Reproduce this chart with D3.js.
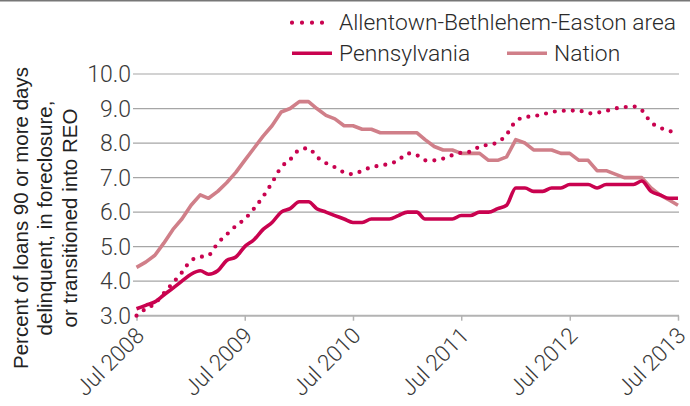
<!DOCTYPE html>
<html lang="en">
<head>
    <meta charset="UTF-8">
    <title>Seriously delinquent loans</title>
    <script src="https://cdnjs.cloudflare.com/ajax/libs/d3/7.8.5/d3.min.js"></script>
    <style>
        body { margin: 0; background: #fff; }
        svg text { font-family: "Liberation Sans", Arial, sans-serif; }
        .grid line { stroke: #a6a6a6; stroke-width: 1.2px; }
        .light { font-family: Roboto, "Liberation Sans", sans-serif !important; font-weight: 300; }
        .tick-label { fill: #3a3a3a; font-size: 23px; }
        .xlabel { fill: #3a3a3a; font-size: 22.5px; }
        .title { fill: #222; font-size: 20.5px; }
        .legend text { fill: #2a2a2a; font-size: 22.8px; }
    </style>
</head>
<body>
<div id="chart"></div>
<script>
    // monthly values, Jul 2008 .. Jul 2013
    const startMonth = new Date(2008, 6, 1);

    const allentown = [3.0, 3.2, 3.35, 3.65, 3.95, 4.25, 4.6, 4.7, 4.75, 5.1, 5.35, 5.6, 5.8,
        6.1, 6.45, 6.85, 7.3, 7.52, 7.8, 7.85, 7.6, 7.42, 7.3, 7.15, 7.1,
        7.2, 7.3, 7.35, 7.4, 7.5, 7.7, 7.65, 7.5, 7.5, 7.55, 7.65, 7.72,
        7.75, 7.9, 7.95, 8.02, 8.25, 8.63, 8.75, 8.78, 8.83, 8.9, 8.93, 8.94,
        8.94, 8.86, 8.88, 8.93, 9.0, 9.04, 9.06, 8.95, 8.6, 8.45, 8.35, 8.3];

    const pennsylvania = [3.2, 3.3, 3.4, 3.6, 3.8, 4.0, 4.2, 4.3, 4.2, 4.3, 4.6, 4.7, 5.0,
        5.2, 5.5, 5.7, 6.0, 6.1, 6.3, 6.3, 6.1, 6.0, 5.9, 5.8, 5.7,
        5.7, 5.8, 5.8, 5.8, 5.9, 6.0, 6.0, 5.8, 5.8, 5.8, 5.8, 5.9,
        5.9, 6.0, 6.0, 6.1, 6.2, 6.7, 6.7, 6.6, 6.6, 6.7, 6.7, 6.8,
        6.8, 6.8, 6.7, 6.8, 6.8, 6.8, 6.8, 6.9, 6.6, 6.5, 6.4, 6.4];

    const nation = [4.4, 4.55, 4.75, 5.1, 5.5, 5.8, 6.2, 6.5, 6.4, 6.6, 6.85, 7.15, 7.5,
        7.85, 8.2, 8.5, 8.9, 9.0, 9.2, 9.2, 9.0, 8.8, 8.7, 8.5, 8.5,
        8.4, 8.4, 8.3, 8.3, 8.3, 8.3, 8.3, 8.1, 7.9, 7.8, 7.8, 7.7,
        7.7, 7.7, 7.5, 7.5, 7.6, 8.1, 8.0, 7.8, 7.8, 7.8, 7.7, 7.7,
        7.5, 7.5, 7.2, 7.2, 7.1, 7.0, 7.0, 7.0, 6.7, 6.5, 6.35, 6.2];

    const yTicks = [3, 4, 5, 6, 7, 8, 9, 10];
    const xTickLabels = ["Jul 2008", "Jul 2009", "Jul 2010", "Jul 2011", "Jul 2012", "Jul 2013"];
    const titleLines = ["Percent of loans 90 or more days", "delinquent, in foreclosure,", "or transitioned into REO"];

    const width = 690, height = 406;
    const pink = "#c9024f", rose = "#d07f89";

    const svg = d3.select("#chart").append("svg")
        .attr("width", width)
        .attr("height", height);

    const x = d3.scaleTime()
        .domain([startMonth, d3.timeMonth.offset(startMonth, 60)])
        .range([136.5, 678]);
    const y = d3.scaleLinear().domain([3, 10]).range([315.7, 74]);

    const monthOf = i => d3.timeMonth.offset(startMonth, i);

    // top rule
    svg.append("line")
        .attr("x1", 0).attr("x2", width).attr("y1", 0.5).attr("y2", 0.5)
        .attr("stroke", "#777").attr("stroke-width", 2);

    // grid lines
    svg.append("g").attr("class", "grid")
        .selectAll("line")
        .data(yTicks.slice(1))
        .join("line")
        .attr("x1", 133).attr("x2", 679)
        .attr("y1", d => y(d)).attr("y2", d => y(d));

    // y tick labels
    svg.append("g")
        .selectAll("text")
        .data(yTicks)
        .join("text")
        .attr("class", "tick-label light")
        .attr("x", 131)
        .attr("y", d => y(d))
        .attr("dy", "0.36em")
        .attr("text-anchor", "end")
        .text(d => d.toFixed(1));

    // x axis
    const xTicks = xTickLabels.map((d, i) => monthOf(i * 12));
    const xAxis = svg.append("g")
        .attr("transform", `translate(0,${y(3)})`)
        .call(d3.axisBottom(x).tickValues(xTicks).tickSize(5).tickFormat(""));
    xAxis.select(".domain")
        .attr("d", `M136,0H679`)
        .attr("stroke", "#b3b3b3").attr("stroke-width", 2);
    xAxis.selectAll(".tick line").attr("stroke", "#b3b3b3").attr("stroke-width", 1.5);

    svg.append("g")
        .selectAll("text")
        .data(xTickLabels)
        .join("text")
        .attr("class", "xlabel light")
        .attr("text-anchor", "end")
        .attr("transform", (d, i) => `translate(${x(xTicks[i]) + 9},337) rotate(-45)`)
        .text(d => d);

    // axis title
    svg.append("g")
        .selectAll("text")
        .data(titleLines)
        .join("text")
        .attr("class", "title")
        .attr("text-anchor", "middle")
        .attr("transform", (d, i) => `translate(${27.5 + i * 24.5},218) rotate(-90)`)
        .text(d => d);

    // series
    const line = d3.line()
        .x((d, i) => x(monthOf(i)))
        .y(d => y(d));

    svg.append("path")
        .datum(nation)
        .attr("fill", "none")
        .attr("stroke", rose)
        .attr("stroke-width", 3.6)
        .attr("stroke-linejoin", "round")
        .attr("d", line);

    svg.append("path")
        .datum(pennsylvania)
        .attr("fill", "none")
        .attr("stroke", pink)
        .attr("stroke-width", 3.6)
        .attr("stroke-linejoin", "round")
        .attr("d", line.curve(d3.curveMonotoneX));

    svg.append("path")
        .datum(allentown)
        .attr("fill", "none")
        .attr("stroke", pink)
        .attr("stroke-width", 4.2)
        .attr("stroke-linecap", "round")
        .attr("stroke-dasharray", "0,9")
        .attr("d", line.curve(d3.curveMonotoneX));

    // legend
    const legend = svg.append("g").attr("class", "legend");
    const items = [
        { name: "Allentown-Bethlehem-Easton area", color: pink, dash: true, x: 292, y: 22.7 },
        { name: "Pennsylvania", color: pink, dash: false, x: 292, y: 53.3 },
        { name: "Nation", color: rose, dash: false, x: 507, y: 53.3 }
    ];
    items.forEach(it => {
        legend.append("line")
            .attr("x1", it.x).attr("x2", it.x + 40)
            .attr("y1", it.y).attr("y2", it.y)
            .attr("stroke", it.color)
            .attr("stroke-width", it.dash ? 4.2 : 3.6)
            .attr("stroke-linecap", it.dash ? "round" : "butt")
            .attr("stroke-dasharray", it.dash ? "0,10" : null);
        legend.append("text")
            .attr("class", "light")
            .attr("x", it.x + 47)
            .attr("y", it.y + 7.5)
            .text(it.name);
    });
</script>
</body>
</html>
